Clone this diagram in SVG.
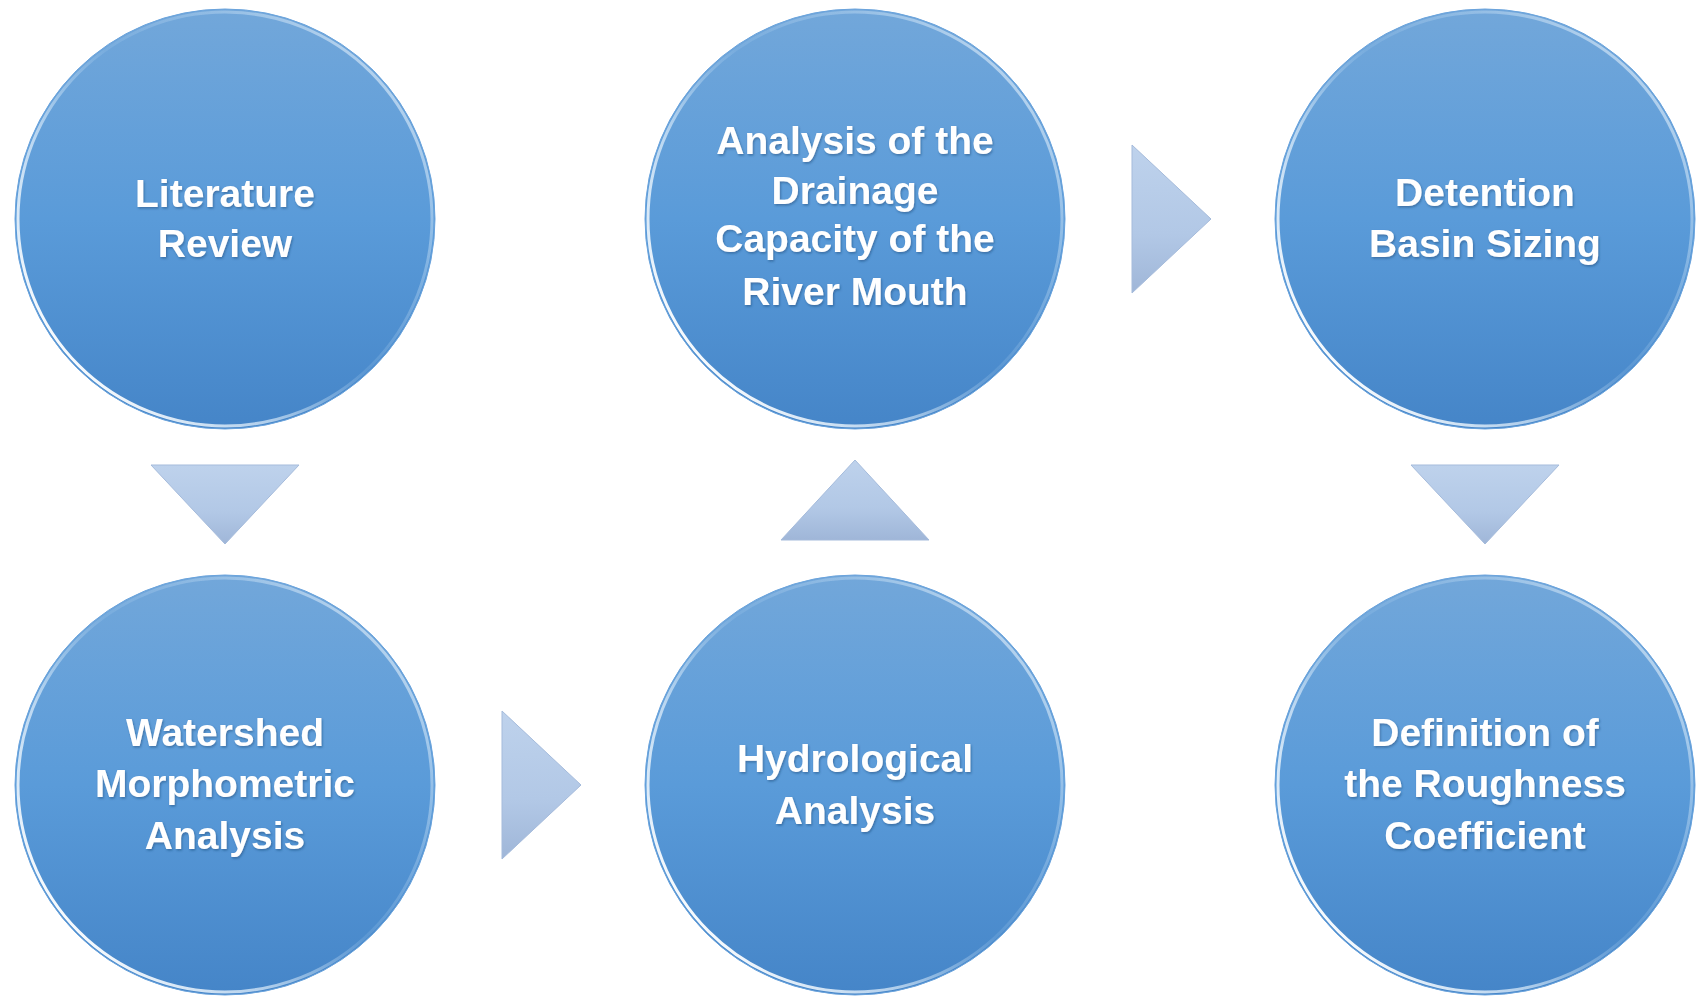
<svg xmlns="http://www.w3.org/2000/svg" width="1703" height="996" viewBox="0 0 1703 996">
<defs>
<linearGradient id="cfill" x1="0" y1="0" x2="0" y2="1">
<stop offset="0" stop-color="#72a7da"/>
<stop offset="0.5" stop-color="#5a9bd9"/>
<stop offset="1" stop-color="#4585c8"/>
</linearGradient>
<linearGradient id="crim" x1="0.1" y1="0.85" x2="0.9" y2="0.2">
<stop offset="0" stop-color="#ffffff" stop-opacity="1"/>
<stop offset="0.3" stop-color="#e6f3fd" stop-opacity="0.65"/>
<stop offset="0.55" stop-color="#b9d8f3" stop-opacity="0.15"/>
<stop offset="0.8" stop-color="#cfe5f8" stop-opacity="0.35"/>
<stop offset="1" stop-color="#e3f0fb" stop-opacity="0.6"/>
</linearGradient>
<linearGradient id="tfill" x1="0" y1="0" x2="0" y2="1">
<stop offset="0" stop-color="#bed2ec"/>
<stop offset="0.6" stop-color="#b2c8e6"/>
<stop offset="1" stop-color="#9fb6d8"/>
</linearGradient>
<filter id="ts" x="-10%" y="-10%" width="120%" height="130%">
<feDropShadow dx="1" dy="1.5" stdDeviation="1" flood-color="#1a3d66" flood-opacity="0.45"/>
</filter>
<filter id="soft" x="-5%" y="-5%" width="110%" height="110%">
<feGaussianBlur stdDeviation="0.7"/>
</filter>
</defs>
<style>
.c{fill:url(#cfill);}
.rim{fill:none;stroke:url(#crim);stroke-width:3;}
.edge{fill:none;stroke:#6aa3dc;stroke-width:1;}
.t{font-family:"Liberation Sans",Arial,sans-serif;font-weight:bold;font-size:39px;fill:#ffffff;text-anchor:middle;filter:url(#ts);}
.tri{fill:url(#tfill);stroke:#a5bbdb;stroke-width:1;stroke-linejoin:round;}
</style>
<rect width="1703" height="996" fill="#ffffff"/>

<g id="connectors">
<polygon class="tri" points="151,465 299,465 225,544"/>
<polygon class="tri" points="502,711 502,859 581,785"/>
<polygon class="tri" points="781,540 929,540 855,460"/>
<polygon class="tri" points="1132,145 1132,293 1211,219"/>
<polygon class="tri" points="1411,465 1559,465 1485,544"/>
</g>

<g id="n1">
<circle class="c" cx="225" cy="219" r="210"/>
<circle class="edge" cx="225" cy="219" r="210"/>
<circle class="rim" cx="225" cy="219" r="207" filter="url(#soft)"/>
<text class="t" x="225" y="207">Literature</text>
<text class="t" x="225" y="257">Review</text>
</g>

<g id="n2">
<circle class="c" cx="225" cy="785" r="210"/>
<circle class="edge" cx="225" cy="785" r="210"/>
<circle class="rim" cx="225" cy="785" r="207" filter="url(#soft)"/>
<text class="t" x="225" y="746">Watershed</text>
<text class="t" x="225" y="797">Morphometric</text>
<text class="t" x="225" y="849">Analysis</text>
</g>

<g id="n3">
<circle class="c" cx="855" cy="785" r="210"/>
<circle class="edge" cx="855" cy="785" r="210"/>
<circle class="rim" cx="855" cy="785" r="207" filter="url(#soft)"/>
<text class="t" x="855" y="772">Hydrological</text>
<text class="t" x="855" y="824">Analysis</text>
</g>

<g id="n4">
<circle class="c" cx="855" cy="219" r="210"/>
<circle class="edge" cx="855" cy="219" r="210"/>
<circle class="rim" cx="855" cy="219" r="207" filter="url(#soft)"/>
<text class="t" x="855" y="154">Analysis of the</text>
<text class="t" x="855" y="204">Drainage</text>
<text class="t" x="855" y="252">Capacity of the</text>
<text class="t" x="855" y="305">River Mouth</text>
</g>

<g id="n5">
<circle class="c" cx="1485" cy="219" r="210"/>
<circle class="edge" cx="1485" cy="219" r="210"/>
<circle class="rim" cx="1485" cy="219" r="207" filter="url(#soft)"/>
<text class="t" x="1485" y="206">Detention</text>
<text class="t" x="1485" y="257">Basin Sizing</text>
</g>

<g id="n6">
<circle class="c" cx="1485" cy="785" r="210"/>
<circle class="edge" cx="1485" cy="785" r="210"/>
<circle class="rim" cx="1485" cy="785" r="207" filter="url(#soft)"/>
<text class="t" x="1485" y="746">Definition of</text>
<text class="t" x="1485" y="797">the Roughness</text>
<text class="t" x="1485" y="849">Coefficient</text>
</g>
</svg>
